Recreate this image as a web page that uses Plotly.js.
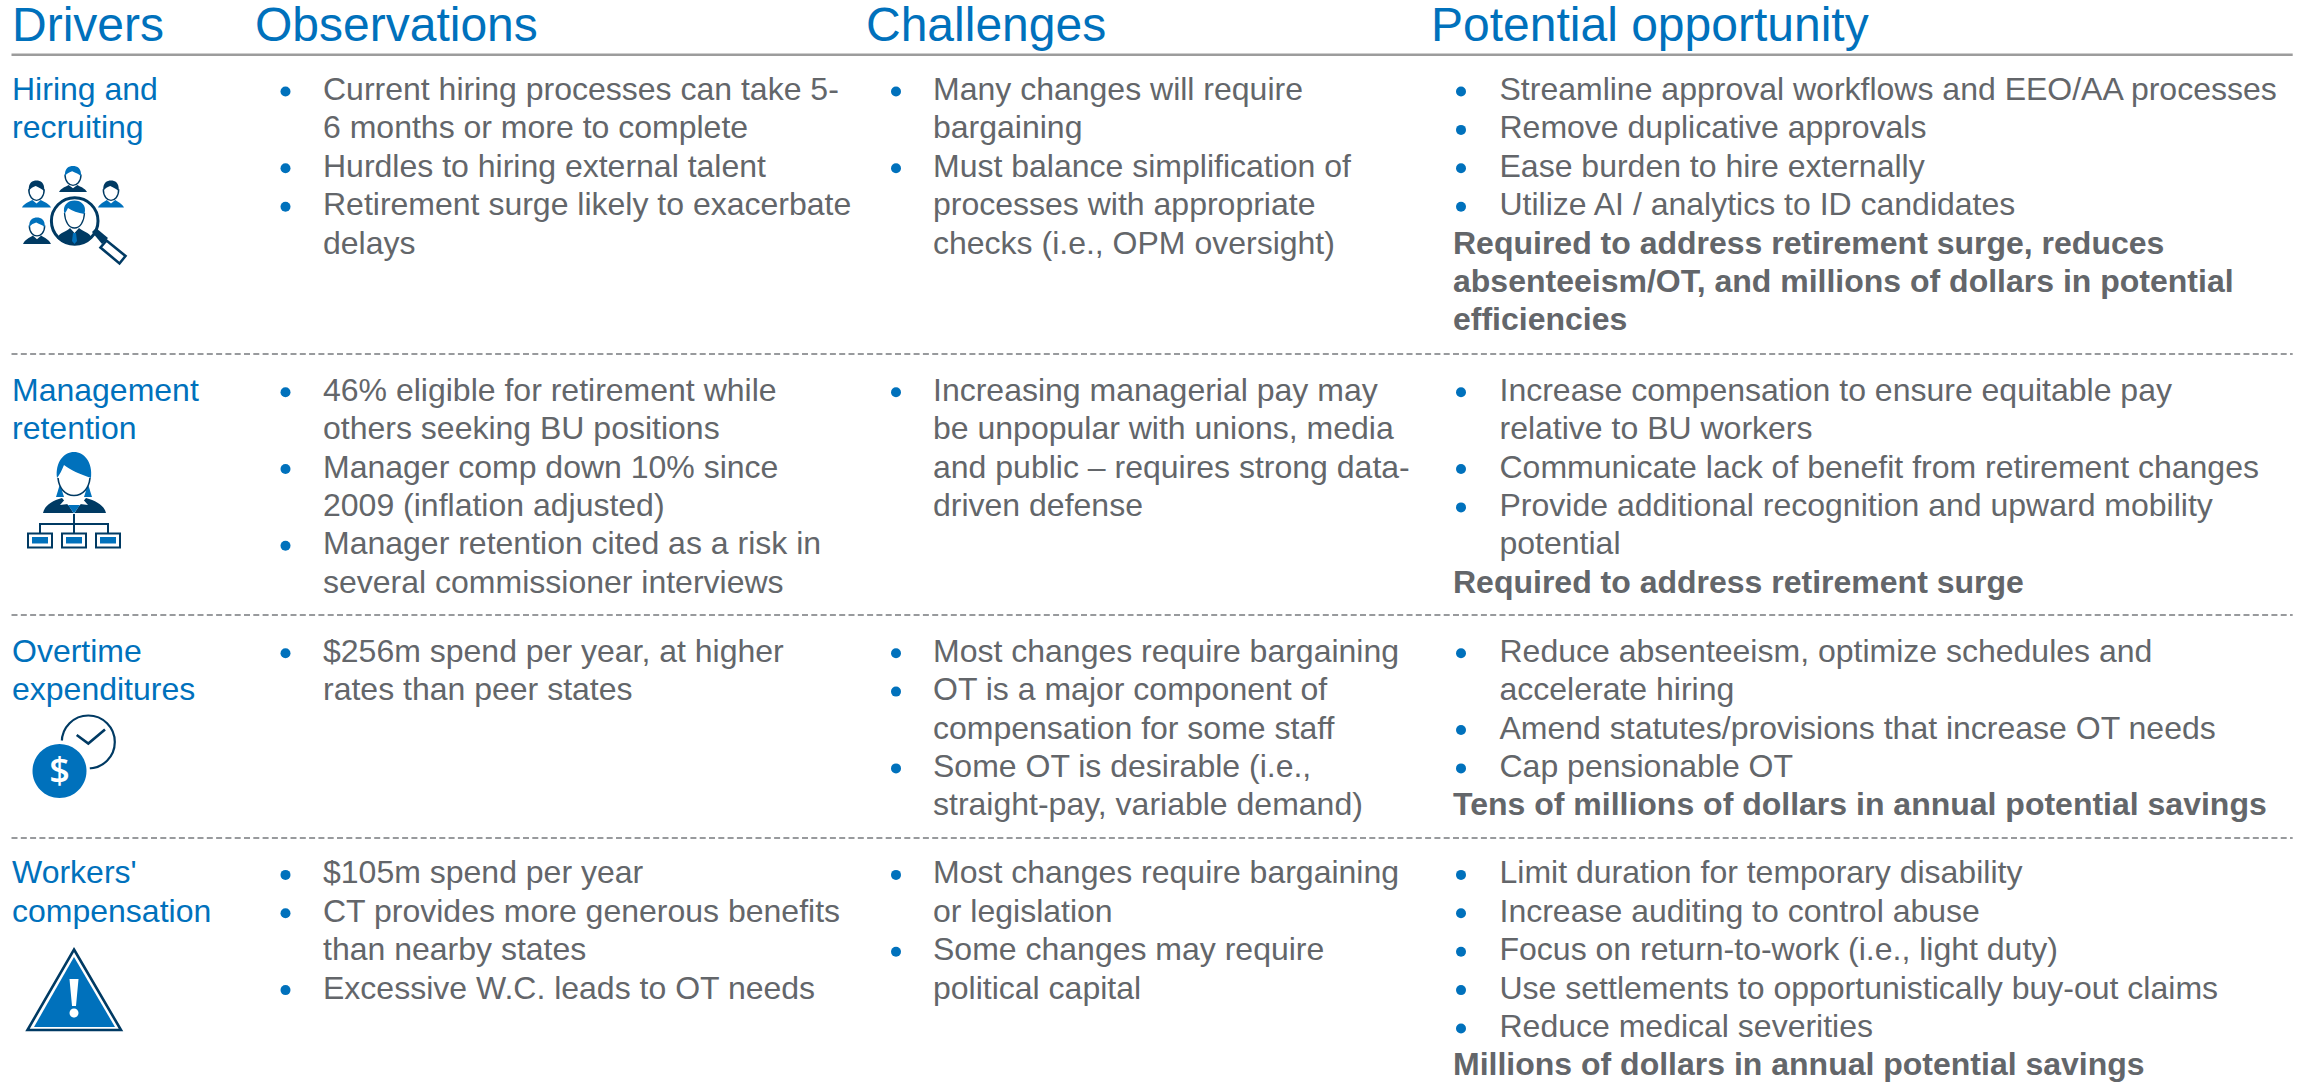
<!DOCTYPE html>
<html><head><meta charset="utf-8">
<script src="https://cdn.plot.ly/plotly-3.0.1.min.js"></script>
<style>html,body{margin:0;padding:0;background:#fff;overflow:hidden}#chart{width:2305px;height:1083px}</style>
</head><body><div id="chart"></div>
<script>
// ---------- content ----------
const headers = ["Drivers", "Observations", "Challenges", "Potential opportunity"];
const drivers = [
  ["Hiring and", "recruiting"],
  ["Management", "retention"],
  ["Overtime", "expenditures"],
  ["Workers'", "compensation"]
];
const observations = [
  [["Current hiring processes can take 5-", "6 months or more to complete"],
   ["Hurdles to hiring external talent"],
   ["Retirement surge likely to exacerbate", "delays"]],
  [["46% eligible for retirement while", "others seeking BU positions"],
   ["Manager comp down 10% since", "2009 (inflation adjusted)"],
   ["Manager retention cited as a risk in", "several commissioner interviews"]],
  [["$256m spend per year, at higher", "rates than peer states"]],
  [["$105m spend per year"],
   ["CT provides more generous benefits", "than nearby states"],
   ["Excessive W.C. leads to OT needs"]]
];
const challenges = [
  [["Many changes will require", "bargaining"],
   ["Must balance simplification of", "processes with appropriate", "checks (i.e., OPM oversight)"]],
  [["Increasing managerial pay may", "be unpopular with unions, media", "and public \u2013 requires strong data-", "driven defense"]],
  [["Most changes require bargaining"],
   ["OT is a major component of", "compensation for some staff"],
   ["Some OT is desirable (i.e.,", "straight-pay, variable demand)"]],
  [["Most changes require bargaining", "or legislation"],
   ["Some changes may require", "political capital"]]
];
const opportunities = [
  [["Streamline approval workflows and EEO/AA processes"],
   ["Remove duplicative approvals"],
   ["Ease burden to hire externally"],
   ["Utilize AI / analytics to ID candidates"]],
  [["Increase compensation to ensure equitable pay", "relative to BU workers"],
   ["Communicate lack of benefit from retirement changes"],
   ["Provide additional recognition and upward mobility", "potential"]],
  [["Reduce absenteeism, optimize schedules and", "accelerate hiring"],
   ["Amend statutes/provisions that increase OT needs"],
   ["Cap pensionable OT"]],
  [["Limit duration for temporary disability"],
   ["Increase auditing to control abuse"],
   ["Focus on return-to-work (i.e., light duty)"],
   ["Use settlements to opportunistically buy-out claims"],
   ["Reduce medical severities"]]
];
const opportunityNotes = [
  ["Required to address retirement surge, reduces", "absenteeism/OT, and millions of dollars in potential", "efficiencies"],
  ["Required to address retirement surge"],
  ["Tens of millions of dollars in annual potential savings"],
  ["Millions of dollars in annual potential savings"]
];

// ---------- layout ----------
const W = 2305, H = 1083;
const BLUE = "#0071BC", NAVY = "#003A63", GREY = "#63666A", RULE = "#9C9C9C", DASH = "#777A7E";
const FONT = "Liberation Sans";
const BODY = 32, HEAD = 48, LINE = 38.4;
const rowTop = [92, 392.7, 653.7, 875.4];
const headY = 29.3, headX = [12, 255, 866, 1431];
const driverX = 12;
const cols = [
  {data: observations, bullet: 285.5, text: 323},
  {data: challenges, bullet: 896, text: 933},
  {data: opportunities, bullet: 1461, text: 1499.5}
];
const noteX = 1453;
const ruleY = 54.8, dashY = [354, 615, 838], ruleX0 = 11.5, ruleX1 = 2292.7;

const traces = [];
function textTrace(xs, ys, ts, size, color, weight) {
  traces.push({type: "scatter", mode: "text", x: xs, y: ys, text: ts, textposition: "middle right",
    textfont: {family: FONT, size: size, color: color, weight: weight || 400}, cliponaxis: false, hoverinfo: "skip", showlegend: false});
}
textTrace(headX, headers.map(() => headY), headers, HEAD, BLUE);
drivers.forEach((ls, r) => textTrace(ls.map(() => driverX), ls.map((_, i) => rowTop[r] + i * LINE), ls, BODY, BLUE));

const bx = [], by = [];
cols.forEach(c => c.data.forEach((items, r) => {
  let n = 0; const xs = [], ys = [], ts = [];
  items.forEach(lines => {
    bx.push(c.bullet); by.push(rowTop[r] - 0.5 + n * LINE);
    lines.forEach(l => { xs.push(c.text); ys.push(rowTop[r] + n * LINE); ts.push(l); n++; });
  });
  textTrace(xs, ys, ts, BODY, GREY);
  if (c.data === opportunities) {
    const note = opportunityNotes[r];
    textTrace(note.map(() => noteX), note.map((_, i) => rowTop[r] + (n + i) * LINE), note, BODY, GREY, 700);
  }
}));
traces.push({type: "scatter", mode: "markers", x: bx, y: by, marker: {size: 10, color: BLUE, line: {width: 0}}, hoverinfo: "skip", showlegend: false});

// ---------- icons (vector drawings built as plotly shapes) ----------
const shapes = [];
const P = (path, fill, lineColor, lw) => shapes.push({type: "path", xref: "x", yref: "y", layer: "below", path,
  fillcolor: fill || "rgba(0,0,0,0)", line: {color: lineColor || "rgba(0,0,0,0)", width: lw || 0}});
const K = 0.5523;
const ell = (cx, cy, rx, ry) => `M${cx - rx},${cy}C${cx - rx},${cy - K * ry} ${cx - K * rx},${cy - ry} ${cx},${cy - ry}C${cx + K * rx},${cy - ry} ${cx + rx},${cy - K * ry} ${cx + rx},${cy}C${cx + rx},${cy + K * ry} ${cx + K * rx},${cy + ry} ${cx},${cy + ry}C${cx - K * rx},${cy + ry} ${cx - rx},${cy + K * ry} ${cx - rx},${cy}Z`;
const poly = pts => "M" + pts.map(p => p.join(",")).join("L") + "Z";

function person(cx, top, hw, hh, sw, sh, hair, body) {
  const sy = top + hh;
  P(`M${cx - sw},${sy + sh}C${cx - sw + 2},${sy + sh * 0.45} ${cx - sw * 0.55},${sy + sh * 0.3} ${cx - hw * 0.55},${sy}L${cx},${sy + sh * 0.45}L${cx + hw * 0.55},${sy}C${cx + sw * 0.55},${sy + sh * 0.3} ${cx + sw - 2},${sy + sh * 0.45} ${cx + sw},${sy + sh}Z`, body);
  P(`M${cx - hw},${top + hh * 0.45}C${cx - hw},${top + hh * 0.85} ${cx - hw * 0.45},${top + hh * 1.02} ${cx},${top + hh * 1.02}C${cx + hw * 0.45},${top + hh * 1.02} ${cx + hw},${top + hh * 0.85} ${cx + hw},${top + hh * 0.45}`, "#fff", NAVY, 1.4);
  P(`M${cx - hw},${top + hh * 0.55}C${cx - hw * 1.1},${top + hh * 0.1} ${cx - hw * 0.5},${top} ${cx},${top}C${cx + hw * 0.5},${top} ${cx + hw * 1.1},${top + hh * 0.1} ${cx + hw},${top + hh * 0.55}C${cx + hw * 0.75},${top + hh * 0.42} ${cx + hw * 0.35},${top + hh * 0.38} ${cx - hw * 0.1},${top + hh * 0.28}C${cx - hw * 0.4},${top + hh * 0.32} ${cx - hw * 0.8},${top + hh * 0.38} ${cx - hw},${top + hh * 0.55}Z`, hair);
}
person(73, 166, 8, 19, 14, 7, BLUE, NAVY);
person(36.5, 180.5, 7.7, 19.5, 14.5, 7.5, NAVY, BLUE);
person(111, 180.5, 7.7, 19.5, 13, 7.5, NAVY, BLUE);
person(37, 217.5, 7.7, 18, 14, 8.5, BLUE, NAVY);
P(ell(74.7, 221, 23.3, 23.3), "#fff", NAVY, 3);
P(`M57,238C60,232 68,231 70,228L74.5,233L79,228C82,231 89,232 92,238C87,243 81,244.5 74.5,244.5C68,244.5 62,243 57,238Z`, NAVY);
P(poly([[73, 233], [76, 233], [77, 241], [74.5, 244], [72, 241]]), BLUE);
P(`M64.5,213C65,222 69,228 74.5,228C80,228 84,222 84.5,213`, "#fff", NAVY, 1.3);
P(`M64.5,214C62,205 68,200.5 74.5,200.5C81,200.5 87,205 84.5,214C78,213 72,211 68,208C67,210 66,212 64.5,214Z`, BLUE);
P(poly([[92, 232], [96, 228], [108, 238], [102, 244]]), NAVY);
P(poly([[100.5, 247.5], [106.5, 240.5], [125.5, 256], [119.5, 263.5]]), "#fff", NAVY, 2.6);

P(`M43,513C45,505 52,501 62,498L74,512L86,498C96,501 104,505 106,513Z`, NAVY);
P(poly([[67, 497], [74, 495], [81, 497], [88, 505], [80, 504], [74, 514], [68, 504], [60, 505]]), "#fff");
P(poly([[68, 505], [80, 505], [74, 513.5]]), BLUE);
P(poly([[60, 484], [64, 497], [56, 497]]), BLUE);
P(poly([[88, 484], [92, 497], [84, 497]]), BLUE);
P(`M58,478C59,488 65,495.5 74,495.5C83,495.5 89,488 90,478`, "#fff", NAVY, 1.6);
P(`M57,478C55,462 64,452 74,452C84,452 93,462 91,478C80,474 70,470 64,465C62,470 60,474 57,478Z`, BLUE);
P(`M74,514V533M40,533V524H108V533`, null, NAVY, 2);
[28, 62, 96].forEach(x => {
  P(poly([[x, 533.5], [x + 24, 533.5], [x + 24, 547.5], [x, 547.5]]), "#fff", NAVY, 2);
  P(poly([[x + 4, 537], [x + 20, 537], [x + 20, 543.5], [x + 4, 543.5]]), BLUE);
});

P(ell(88.3, 742, 26.5, 26.5), "#fff", NAVY, 2.2);
P(`M76.7,735L88.3,743.5L105,729.5`, null, NAVY, 2.6);
P(ell(59.5, 771, 30.5, 30.5), "#fff");
P(ell(59.5, 771, 27, 27), BLUE);
textTrace([59.5], [773.5], ["$"], 36, "#fff", 600);
traces[traces.length - 1].textposition = "middle center";
traces[traces.length - 1].textfont.family = "Open Sans";

P(poly([[74, 949.5], [121, 1030], [27.5, 1030]]), "#fff", NAVY, 2.6);
P(poly([[74, 957], [115, 1027], [34, 1027]]), BLUE);
P(poly([[69.5, 979], [78.5, 979], [76, 1006], [72, 1006]]), "#fff");
P(ell(74, 1013, 4.5, 4.5), "#fff");

shapes.push({type: "line", xref: "x", yref: "y", layer: "below", x0: ruleX0, x1: ruleX1, y0: ruleY, y1: ruleY, line: {color: RULE, width: 2.4}});
dashY.forEach(y => shapes.push({type: "line", xref: "x", yref: "y", layer: "below", x0: ruleX0, x1: ruleX1, y0: y, y1: y,
  line: {color: DASH, width: 1.4, dash: "6px,3.3px"}}));

const axis = {visible: false, fixedrange: true, showgrid: false, zeroline: false};
Plotly.newPlot("chart", traces, {
  width: W, height: H, margin: {l: 0, r: 0, t: 0, b: 0}, paper_bgcolor: "#fff", plot_bgcolor: "#fff", showlegend: false,
  xaxis: Object.assign({range: [0, W]}, axis), yaxis: Object.assign({range: [H, 0]}, axis), shapes
}, {staticPlot: true, displayModeBar: false});
</script></body></html>
